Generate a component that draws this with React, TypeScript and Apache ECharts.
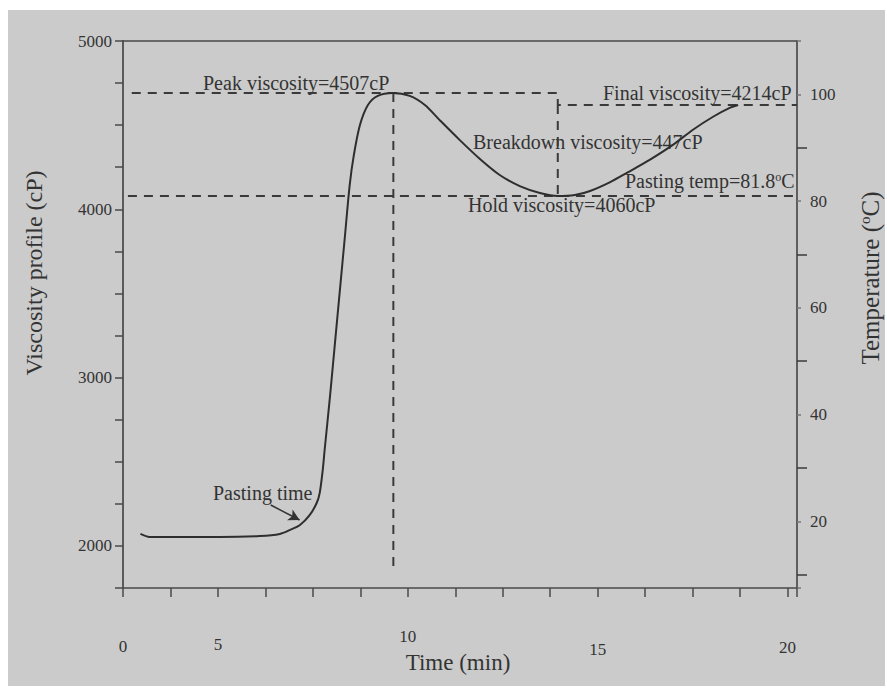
import React, { useEffect, useRef } from 'react';
import * as echarts from 'echarts';

// Viscosity profile (time in min, viscosity in cP)
const timeMin = [2.96, 3.2, 3.99, 5.04, 6.1, 6.63, 6.89, 7.16, 7.42, 7.6, 7.68, 7.76, 7.81, 7.95, 8.08, 8.21, 8.34, 8.47, 8.58, 8.74, 8.95, 9.21, 9.6, 10.05, 10.45, 10.84, 11.37, 11.9, 12.42, 12.95, 13.48, 13.95, 14.4, 14.8, 15.33, 15.78, 16.38, 16.99, 17.51, 18.04, 18.49, 18.7];
const viscosityCp = [2071, 2053, 2053, 2053, 2059, 2071, 2094, 2124, 2184, 2255, 2314, 2451, 2570, 2885, 3200, 3515, 3829, 4144, 4323, 4501, 4620, 4674, 4691, 4674, 4620, 4530, 4411, 4299, 4204, 4138, 4097, 4079, 4085, 4109, 4162, 4218, 4295, 4384, 4473, 4550, 4604, 4620];

// Dashed guide lines [time, viscosity]
const peakStepLine = [[2.73, 4691], [13.95, 4691], [13.95, 4620], [20.25, 4620]];
const breakdownLine = [[13.95, 4620], [13.95, 4079]];
const holdLine = [[2.63, 4079], [20.25, 4079]];
const peakTimeLine = [[9.62, 4691], [9.62, 1869]];

// Pasting time arrow [time, viscosity]
const arrowFrom = [6.39, 2243];
const arrowTo = [7.15, 2154];

// Axis tick labels (as printed on the figure)
const xTickValues = [2.5, 5, 10, 15, 20];
const xTickTexts = ['0', '5', '10', '15', '20'];
const xTickDrop = [10, 8, 0, 13, 11];

const SERIF = "'Liberation Serif', 'DejaVu Serif', serif";
const INK = '#333333';

export default function App() {
  const ref = useRef<HTMLDivElement>(null);

  useEffect(() => {
    document.body.style.margin = '0';
    if (!ref.current) return;
    const chart = echarts.init(ref.current, undefined, { renderer: 'svg' });

    const xRich: Record<string, any> = {};
    xTickTexts.forEach((t, i) => {
      xRich['l' + i] = {
        fontFamily: SERIF,
        fontSize: 17,
        color: INK,
        padding: [xTickDrop[i], 0, 0, 0],
      };
    });

    const dashed = {
      type: [9, 7] as any,
      color: '#3a3a3a',
      width: 2,
    };

    const option: any = {
      animation: false,
      backgroundColor: 'transparent',
      grid: { left: 123, right: 90, top: 41, bottom: 101, containLabel: false },
      xAxis: [
        {
          type: 'value',
          min: 2.5,
          max: 20.25,
          interval: 1.25,
          position: 'bottom',
          axisLine: { show: true, onZero: false, lineStyle: { color: '#4a4a4a', width: 1.5 } },
          axisTick: { show: true, inside: false, length: 9, lineStyle: { color: '#4a4a4a', width: 1.5 } },
          splitLine: { show: false },
          axisLabel: {
            margin: 40,
            showMinLabel: true,
            showMaxLabel: true,
            formatter: (v: number) => {
              const idx = xTickValues.findIndex((t) => Math.abs(t - v) < 1e-6);
              return idx >= 0 ? `{l${idx}|${xTickTexts[idx]}}` : '';
            },
            rich: xRich,
          },
        },
        {
          type: 'value',
          min: 2.5,
          max: 20.25,
          position: 'top',
          axisLine: { show: true, onZero: false, lineStyle: { color: '#4a4a4a', width: 1.5 } },
          axisTick: { show: false },
          axisLabel: { show: false },
          splitLine: { show: false },
        },
      ],
      yAxis: [
        {
          type: 'value',
          min: 1750,
          max: 5000,
          interval: 250,
          position: 'left',
          axisLine: { show: true, onZero: false, lineStyle: { color: '#5a5a5a', width: 2 } },
          axisTick: { show: true, inside: false, length: 8, lineStyle: { color: '#4a4a4a', width: 1.5 } },
          splitLine: { show: false },
          axisLabel: {
            margin: 11,
            fontFamily: SERIF,
            fontSize: 17,
            color: INK,
            formatter: (v: number) => (Math.abs(v % 1000) < 1e-6 ? String(v) : ''),
          },
        },
        {
          type: 'value',
          min: 7.5,
          max: 110,
          splitNumber: 5,
          position: 'right',
          alignTicks: false,
          axisLine: { show: true, onZero: false, lineStyle: { color: '#3a3a3a', width: 1.5 } },
          axisTick: { show: true, inside: false, length: 4, lineStyle: { color: '#777', width: 1.5 } },
          minorTick: { show: true, splitNumber: 2, length: 10, lineStyle: { color: '#3a3a3a', width: 1.5 } },
          splitLine: { show: false },
          minorSplitLine: { show: false },
          axisLabel: {
            margin: 13,
            fontFamily: SERIF,
            fontSize: 17,
            color: INK,
            formatter: (v: number) => (Math.abs(v % 20) < 1e-6 ? String(v) : ''),
          },
        },
      ],
      series: [
        {
          name: 'Viscosity',
          type: 'line',
          xAxisIndex: 0,
          yAxisIndex: 0,
          data: timeMin.map((t, i) => [t, viscosityCp[i]]),
          smooth: 0.3,
          showSymbol: false,
          symbol: 'none',
          lineStyle: { color: '#2e2e2e', width: 2 },
          z: 5,
          markLine: {
            silent: true,
            symbol: ['none', 'arrow'],
            symbolSize: [9, 11],
            label: { show: false },
            lineStyle: { color: '#333', width: 1.5, type: 'solid' },
            data: [[{ coord: arrowFrom }, { coord: arrowTo }]],
          },
        },
        { type: 'line', data: peakStepLine, showSymbol: false, symbol: 'none', lineStyle: dashed, z: 3 },
        { type: 'line', data: breakdownLine, showSymbol: false, symbol: 'none', lineStyle: dashed, z: 3 },
        { type: 'line', data: holdLine, showSymbol: false, symbol: 'none', lineStyle: dashed, z: 3 },
        { type: 'line', data: peakTimeLine, showSymbol: false, symbol: 'none', lineStyle: dashed, z: 3 },
      ],
      graphic: [
        {
          type: 'rect',
          z: -100,
          silent: true,
          shape: { x: 8, y: 10, width: 877, height: 676 },
          style: { fill: '#cbcbcb' },
        },
        {
          type: 'text',
          x: 34,
          y: 273,
          rotation: Math.PI / 2,
          style: {
            text: 'Viscosity profile (cP)',
            font: `24px ${SERIF}`,
            fill: INK,
            align: 'center',
            verticalAlign: 'middle',
          },
        },
        {
          type: 'text',
          x: 870,
          y: 278,
          rotation: Math.PI / 2,
          style: {
            text: 'Temperature ({sup|o}C)',
            font: `25px ${SERIF}`,
            fill: INK,
            align: 'center',
            verticalAlign: 'middle',
            rich: { sup: { fontSize: 15, fontFamily: SERIF, verticalAlign: 'top', fill: INK } },
          },
        },
        {
          type: 'text',
          x: 458,
          y: 662,
          style: { text: 'Time (min)', font: `23px ${SERIF}`, fill: INK, align: 'center', verticalAlign: 'middle' },
        },
        {
          type: 'text',
          x: 203,
          y: 83,
          style: { text: 'Peak viscosity=4507cP', font: `20px ${SERIF}`, fill: INK, align: 'left', verticalAlign: 'middle' },
        },
        {
          type: 'text',
          x: 603,
          y: 93,
          style: { text: 'Final viscosity=4214cP', font: `20px ${SERIF}`, fill: INK, align: 'left', verticalAlign: 'middle' },
        },
        {
          type: 'text',
          x: 473,
          y: 142,
          style: { text: 'Breakdown viscosity=447cP', font: `20px ${SERIF}`, fill: INK, align: 'left', verticalAlign: 'middle' },
        },
        {
          type: 'text',
          x: 625,
          y: 181,
          style: {
            text: 'Pasting temp=81.8{sup|o}C',
            font: `20px ${SERIF}`,
            fill: INK,
            align: 'left',
            verticalAlign: 'middle',
            rich: { sup: { fontSize: 12, fontFamily: SERIF, verticalAlign: 'top', fill: INK } },
          },
        },
        {
          type: 'text',
          x: 468,
          y: 205,
          style: { text: 'Hold viscosity=4060cP', font: `20px ${SERIF}`, fill: INK, align: 'left', verticalAlign: 'middle' },
        },
        {
          type: 'text',
          x: 213,
          y: 493,
          style: { text: 'Pasting time', font: `20px ${SERIF}`, fill: INK, align: 'left', verticalAlign: 'middle' },
        },
      ],
    };

    chart.setOption(option);
    return () => chart.dispose();
  }, []);

  return <div ref={ref} style={{ width: 887, height: 689, background: '#ffffff' }} />;
}
